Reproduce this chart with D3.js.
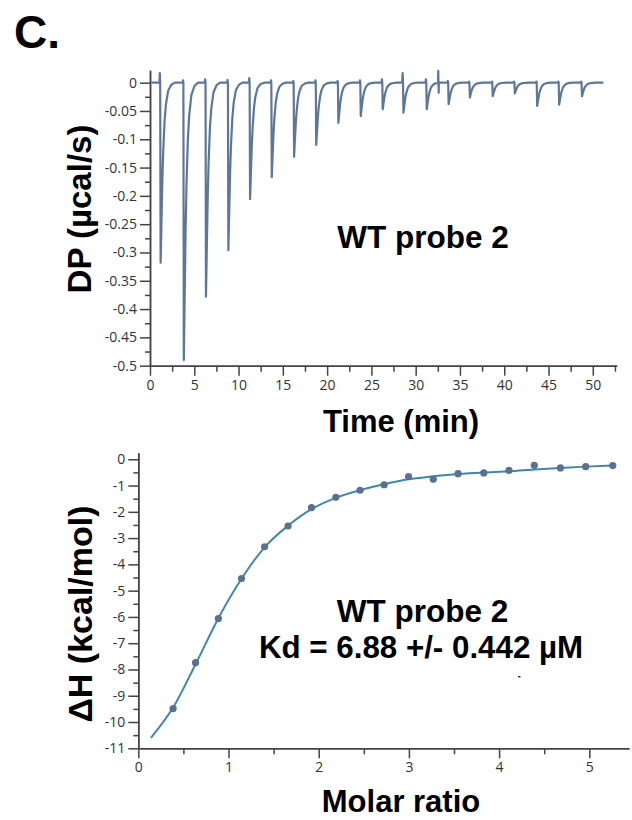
<!DOCTYPE html>
<html>
<head>
<script src="https://d3js.org/d3.v7.min.js"></script>
<style>
    body { margin: 0; background: #fff; }
    .axis path, .axis line { stroke: #444; stroke-width: 1.5px; }
    .axis text { font-family: "Open Sans", sans-serif; font-size: 14px; fill: #333; }
    .title { font-family: "Liberation Sans", Arial, sans-serif; font-weight: bold; fill: #000; }
</style>
</head>
<body>
<svg width="632" height="820"></svg>
<script>
// --- thermogram (top panel) ---
var injTime  = [1.2, 3.82, 6.32, 8.85, 11.3, 13.75, 16.27, 18.77, 21.27, 23.8, 26.28, 28.62, 31.25, 33.72, 36.12, 38.7, 41.2, 43.72, 46.2, 48.78];
var injPeak  = [-0.318, -0.49, -0.378, -0.296, -0.206, -0.167, -0.131, -0.110, -0.071, -0.059, -0.047, -0.053, -0.047, -0.038, -0.026, -0.024, -0.019, -0.041, -0.039, -0.024];
var injSpike = [0.017, 0.004, 0.006, 0.005, 0.008, 0.004, 0.003, 0.004, 0.003, 0.004, 0.006, 0.017, 0.006, 0.003, 0.002, 0.002, 0.002, 0.002, 0.002, 0.002];
// recovery after each peak: [min after peak, fraction of peak]
var peakShape = [[0, 1], [0.1, 0.76], [0.2, 0.53], [0.3, 0.37], [0.45, 0.21], [0.6, 0.12], [0.85, 0.045], [1.2, 0.012], [1.6, 0]];
var noise = [[32.55, 0.021], [32.6, -0.018]];
var traceStart = 0.15, traceEnd = 51.2;
var dpTicks = [0, -0.05, -0.1, -0.15, -0.2, -0.25, -0.3, -0.35, -0.4, -0.45, -0.5];
var timeTicks = [0, 5, 10, 15, 20, 25, 30, 35, 40, 45, 50];

// --- binding isotherm (bottom panel) ---
var molarRatio = [0.386, 0.635, 0.888, 1.144, 1.40, 1.66, 1.92, 2.19, 2.458, 2.725, 2.996, 3.27, 3.545, 3.83, 4.11, 4.39, 4.68, 4.96, 5.26];
var dH = [-9.49, -7.74, -6.06, -4.54, -3.33, -2.54, -1.84, -1.45, -1.18, -0.97, -0.66, -0.76, -0.55, -0.52, -0.42, -0.23, -0.33, -0.28, -0.24];
var fitX = [0.14, 0.386, 0.635, 0.888, 1.144, 1.40, 1.66, 1.92, 2.19, 2.458, 2.725, 2.996, 3.27, 3.545, 3.83, 4.11, 4.39, 4.68, 4.96, 5.26];
var fitY = [-10.6, -9.45, -7.8, -6.05, -4.55, -3.35, -2.53, -1.9, -1.47, -1.18, -0.95, -0.76, -0.65, -0.56, -0.5, -0.46, -0.39, -0.33, -0.28, -0.24];
var dhTicks = [0, -1, -2, -3, -4, -5, -6, -7, -8, -9, -10, -11];
var mrTicks = [0, 1, 2, 3, 4, 5];

var svg = d3.select("svg");
var fmt = function(d) { return d === 0 ? "0" : String(+d.toFixed(2)); };

// build trace points
var trace = [[traceStart, 0]];
injTime.forEach(function(t, i) {
    trace.push([t - 0.14, 0], [t - 0.09, injSpike[i]], [t - 0.05, 0]);
    peakShape.forEach(function(p) { trace.push([t + p[0], injPeak[i] * p[1]]); });
});
noise.forEach(function(n) { trace.push([n[0] - 0.02, 0], n, [n[0] + 0.02, 0]); });
trace.push([traceEnd, 0]);
trace.sort(function(a, b) { return a[0] - b[0]; });

var x = d3.scaleLinear().domain([0, 52.7]).range([150, 616.7]);
var y = d3.scaleLinear().domain([-0.5, 0.022]).range([365.7, 70.2]);

svg.append("g").attr("class", "axis")
    .attr("transform", "translate(150,0)")
    .call(d3.axisLeft(y).tickValues(d3.range(-0.475, 0.01, 0.05)).tickSize(5).tickFormat("").tickSizeOuter(0));
svg.append("g").attr("class", "axis")
    .attr("transform", "translate(150,0)")
    .call(d3.axisLeft(y).tickValues(dpTicks).tickSize(10).tickPadding(3).tickFormat(fmt).tickSizeOuter(0));
svg.append("g").attr("class", "axis")
    .attr("transform", "translate(0," + y(-0.5) + ")")
    .call(d3.axisBottom(x).tickValues(d3.range(2.5, 52.7, 5)).tickSize(6).tickFormat("").tickSizeOuter(0));
svg.append("g").attr("class", "axis")
    .attr("transform", "translate(0," + y(-0.5) + ")")
    .call(d3.axisBottom(x).tickValues(timeTicks).tickSize(10).tickPadding(4).tickFormat(d3.format("d")).tickSizeOuter(0));

svg.append("path")
    .datum(trace)
    .attr("fill", "none")
    .attr("stroke", "#5d7798")
    .attr("stroke-width", 2.2)
    .attr("stroke-linejoin", "round")
    .attr("d", d3.line().x(function(d) { return x(d[0]); }).y(function(d) { return y(d[1]); }));

// bottom panel
var x2 = d3.scaleLinear().domain([0, 5.44]).range([138.3, 629]);
var y2 = d3.scaleLinear().domain([-11, 0.25]).range([748.3, 452.7]);

svg.append("g").attr("class", "axis")
    .attr("transform", "translate(138.3,0)")
    .call(d3.axisLeft(y2).tickValues(d3.range(-10.5, 0.1, 1)).tickSize(5).tickFormat("").tickSizeOuter(0));
svg.append("g").attr("class", "axis")
    .attr("transform", "translate(138.3,0)")
    .call(d3.axisLeft(y2).tickValues(dhTicks).tickSize(10).tickPadding(3).tickFormat(fmt).tickSizeOuter(0));
svg.append("g").attr("class", "axis")
    .attr("transform", "translate(0," + y2(-11) + ")")
    .call(d3.axisBottom(x2).tickValues(d3.range(0.5, 5.44, 1)).tickSize(6).tickFormat("").tickSizeOuter(0));
svg.append("g").attr("class", "axis")
    .attr("transform", "translate(0," + y2(-11) + ")")
    .call(d3.axisBottom(x2).tickValues(mrTicks).tickSize(10).tickPadding(4).tickFormat(d3.format("d")).tickSizeOuter(0));

svg.append("path")
    .datum(fitX.map(function(v, i) { return [v, fitY[i]]; }))
    .attr("fill", "none")
    .attr("stroke", "#3f88a8")
    .attr("stroke-width", 2)
    .attr("d", d3.line().curve(d3.curveMonotoneX).x(function(d) { return x2(d[0]); }).y(function(d) { return y2(d[1]); }));

svg.selectAll("circle.pt")
    .data(molarRatio)
    .enter().append("circle")
    .attr("class", "pt")
    .attr("cx", function(d) { return x2(d); })
    .attr("cy", function(d, i) { return y2(dH[i]); })
    .attr("r", 3.6)
    .attr("fill", "#5b6f8f");

// titles and annotations
function label(txt, tx, ty, size, rot) {
    svg.append("text").attr("class", "title")
        .attr("transform", "translate(" + tx + "," + ty + ")" + (rot ? " rotate(-90)" : ""))
        .attr("text-anchor", "middle")
        .style("font-size", size + "px")
        .text(txt);
}
svg.append("text").attr("class", "title").attr("x", 14).attr("y", 48).style("font-size", "46px").text("C.");
label("DP (µcal/s)", 91, 209, 33, true);
label("Time (min)", 401, 432, 31);
label("WT probe 2", 423, 248, 31.5);
label("ΔH (kcal/mol)", 92, 614, 34, true);
label("Molar ratio", 401, 812, 31);
label("WT probe 2", 422.5, 621.7, 31.5);
label("Kd = 6.88 +/- 0.442 µM", 421, 658, 31.3);
svg.append("rect").attr("x", 518).attr("y", 676).attr("width", 2.5).attr("height", 1.5).attr("fill", "#333");
</script>
</body>
</html>
